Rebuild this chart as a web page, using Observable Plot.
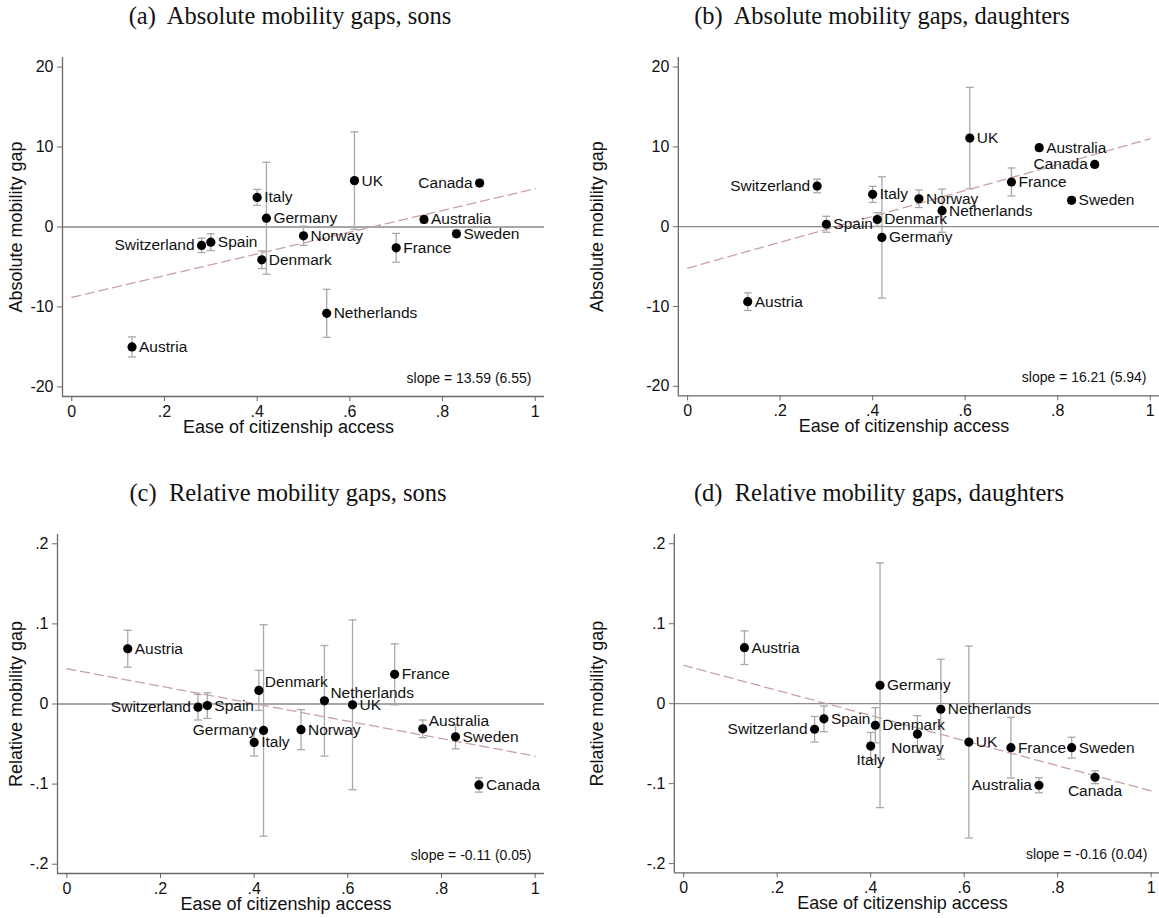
<!DOCTYPE html>
<html><head><meta charset="utf-8">
<script src="https://cdn.jsdelivr.net/npm/d3@7"></script>
<script src="https://cdn.jsdelivr.net/npm/@observablehq/plot@0.6"></script>
<style>
html,body{margin:0;padding:0;background:#fff;overflow:hidden;}
#root{position:relative;width:1159px;height:918px;overflow:hidden;font-family:"Liberation Sans",Arial,sans-serif;}
.title{position:absolute;font-family:"Liberation Serif",serif;font-size:24.5px;color:#111;white-space:pre;transform:translate(-50%,-50%);}
.panel{position:absolute;}
.panel svg{overflow:visible;}
</style></head><body><div id="root"></div>
<script>
// ---- data ----
const countries = ["Austria","Switzerland","Spain","Italy","Denmark","Germany","Norway","Netherlands","UK","France","Australia","Sweden","Canada"];
const access    = [0.13, 0.28, 0.30, 0.40, 0.41, 0.42, 0.50, 0.55, 0.61, 0.70, 0.76, 0.83, 0.88];

// (a) absolute mobility gaps, sons
const absSons     = [-15.0, -2.3, -1.9, 3.7, -4.1, 1.1, -1.1, -10.8, 5.8, -2.6, 0.95, -0.85, 5.5];
const absSonsCI   = [1.25, 0.9, 1.05, 1.0, 1.1, 7.0, 1.2, 3.0, 6.1, 1.8, 0.45, 0.45, 0.4];
const absSonsPos  = ["r","l","r","r","r","r","r","r","r","r","r","r","l"];
// (b) absolute mobility gaps, daughters
const absDaughters    = [-9.4, 5.1, 0.3, 4.05, 0.9, -1.35, 3.5, 2.0, 11.1, 5.6, 9.9, 3.3, 7.8];
const absDaughtersCI  = [1.1, 0.85, 1.0, 1.0, 0.85, 7.6, 1.1, 2.7, 6.35, 1.75, 0.4, 0.4, 0.35];
const absDaughtersPos = ["r","l","r","r","r","r","r","r","r","r","r","r","l"];
// (c) relative mobility gaps, sons
const relSons    = [0.069, -0.004, -0.002, -0.048, 0.017, -0.033, -0.032, 0.004, -0.001, 0.037, -0.031, -0.041, -0.101];
const relSonsCI  = [0.023, 0.016, 0.016, 0.017, 0.025, 0.132, 0.025, 0.069, 0.106, 0.038, 0.011, 0.015, 0.009];
const relSonsPos = ["r","l","r","r","ur","l","r","ur","r","r","ur","r","r"];
// (d) relative mobility gaps, daughters
const relDaughters    = [0.070, -0.032, -0.019, -0.053, -0.027, 0.023, -0.038, -0.007, -0.048, -0.055, -0.102, -0.055, -0.092];
const relDaughtersCI  = [0.021, 0.016, 0.016, 0.017, 0.022, 0.153, 0.023, 0.0625, 0.12, 0.038, 0.0095, 0.013, 0.008];
const relDaughtersPos = ["r","l","r","b","r","r","b","r","r","r","l","r","b"];

// fitted lines (intercept, slope) and slope annotations
const fitIntercepts = [-8.8, -5.2, 0.044, 0.048];
const fitSlopes     = [13.59, 16.21, -0.109, -0.157];
const slopeTexts    = ["slope = 13.59 (6.55)", "slope = 16.21 (5.94)", "slope = -0.11 (0.05)", "slope = -0.16 (0.04)"];
const panelTitles   = ["(a)  Absolute mobility gaps, sons", "(b)  Absolute mobility gaps, daughters", "(c)  Relative mobility gaps, sons", "(d)  Relative mobility gaps, daughters"];
const xTicks   = [0, 0.2, 0.4, 0.6, 0.8, 1];
const absTicks = [-20, -10, 0, 10, 20];
const relTicks = [-0.2, -0.1, 0, 0.1, 0.2];
const xTitle = "Ease of citizenship access";
const yTitles = ["Absolute mobility gap", "Relative mobility gap"];

// ---- drawing ----
const root = document.getElementById("root");
const fmt = d => String(+(+d).toFixed(4)).replace(/^(-?)0\./, "$1.");
const capSymbol = {draw(ctx, size){ const w = Math.sqrt(size / Math.PI); ctx.moveTo(-w, 0); ctx.lineTo(w, 0); }};
const AX = "#6a6a6a", BAR = "#a9a9a9";

function panel(cfg) {
  const {values, ci, pos, k, yDomain, yTicks, yLabel, left, top, marginLeft, yTitleDx} = cfg;
  const data = countries.map((c, i) => ({name: c, x: access[i], y: values[i], lo: values[i] - ci[i], hi: values[i] + ci[i], pos: pos[i]}));
  const fit = [{x: 0, y: fitIntercepts[k]}, {x: 1, y: fitIntercepts[k] + fitSlopes[k]}];
  const lab = (p, opts) => Plot.text(data.filter(d => d.pos === p), {x: "x", y: "y", text: "name", fontSize: 15.5, fill: "#111", ...opts});
  const plot = Plot.plot({
    width: 580, height: 410, marginLeft, marginRight: 580 - marginLeft - (cfg.frameW), marginTop: 17, marginBottom: 54,
    x: {domain: [-0.02, 1.02]},
    y: {domain: yDomain},
    style: {fontFamily: "'Liberation Sans', Arial, sans-serif", background: "transparent", color: "#111"},
    marks: [
      Plot.ruleY([0], {stroke: "#8a8a8a", strokeWidth: 1.4}),
      Plot.ruleX(data, {x: "x", y1: "lo", y2: "hi", stroke: BAR, strokeWidth: 1.3}),
      Plot.dot(data, {x: "x", y: "lo", symbol: capSymbol, r: 4, stroke: BAR, strokeWidth: 1.3}),
      Plot.dot(data, {x: "x", y: "hi", symbol: capSymbol, r: 4, stroke: BAR, strokeWidth: 1.3}),
      Plot.line(fit, {x: "x", y: "y", stroke: "#c9a2a2", strokeWidth: 1.3, strokeDasharray: "9,5"}),
      Plot.dot(data, {x: "x", y: "y", r: 4.6, fill: "#000", stroke: "none"}),
      lab("r", {dx: 7, textAnchor: "start"}),
      lab("l", {dx: -7, textAnchor: "end"}),
      lab("ur", {dx: 6, dy: -8, textAnchor: "start"}),
      lab("b", {dy: 14, textAnchor: "middle"}),
      Plot.ruleX([-0.02], {stroke: AX, strokeWidth: 1.3}),
      Plot.ruleY([yDomain[0]], {stroke: AX, strokeWidth: 1.3}),
      Plot.axisX({ticks: xTicks, tickFormat: fmt, tickSize: 5, tickPadding: 4, fontSize: 16, label: null, stroke: AX, fill: "#111"}),
      Plot.axisY({ticks: yTicks, tickFormat: fmt, tickSize: 5, tickPadding: 4, fontSize: 16, label: null, stroke: AX, fill: "#111"}),
      Plot.text([slopeTexts[k]], {frameAnchor: "bottom-right", dx: -13, dy: -14, fontSize: 14, textAnchor: "end", fill: "#111"}),
      Plot.text([xTitle], {frameAnchor: "bottom", dx: -15, dy: 36, fontSize: 18, textAnchor: "middle", fill: "#111"}),
      Plot.text([yLabel], {frameAnchor: "left", dx: yTitleDx, rotate: -90, fontSize: 18, textAnchor: "middle", fill: "#111"})
    ]
  });
  const div = document.createElement("div");
  div.className = "panel";
  div.style.left = left + "px";
  div.style.top = top + "px";
  div.appendChild(plot);
  root.appendChild(div);
}

function title(text, cx, cy) {
  const t = document.createElement("div");
  t.className = "title";
  t.textContent = text;
  t.style.left = cx + "px";
  t.style.top = cy + "px";
  root.appendChild(t);
}

panel({values: absSons, ci: absSonsCI, pos: absSonsPos, k: 0, yDomain: [-21.2, 21.2], yTicks: absTicks, yLabel: yTitles[0], left: 0, top: 40, marginLeft: 62, frameW: 482, yTitleDx: -46});
panel({values: absDaughters, ci: absDaughtersCI, pos: absDaughtersPos, k: 1, yDomain: [-21.2, 21.2], yTicks: absTicks, yLabel: yTitles[0], left: 580, top: 40, marginLeft: 98, frameW: 482, yTitleDx: -81});
panel({values: relSons, ci: relSonsCI, pos: relSonsPos, k: 2, yDomain: [-0.2116, 0.2116], yTicks: relTicks, yLabel: yTitles[1], left: 0, top: 517, marginLeft: 57, frameW: 487, yTitleDx: -41});
panel({values: relDaughters, ci: relDaughtersCI, pos: relDaughtersPos, k: 3, yDomain: [-0.2116, 0.2116], yTicks: relTicks, yLabel: yTitles[1], left: 580, top: 517, marginLeft: 94, frameW: 487, yTitleDx: -77});

title(panelTitles[0], 290, 16);
title(panelTitles[1], 882, 16);
title(panelTitles[2], 288, 493);
title(panelTitles[3], 879, 493);
</script>
</body></html>
